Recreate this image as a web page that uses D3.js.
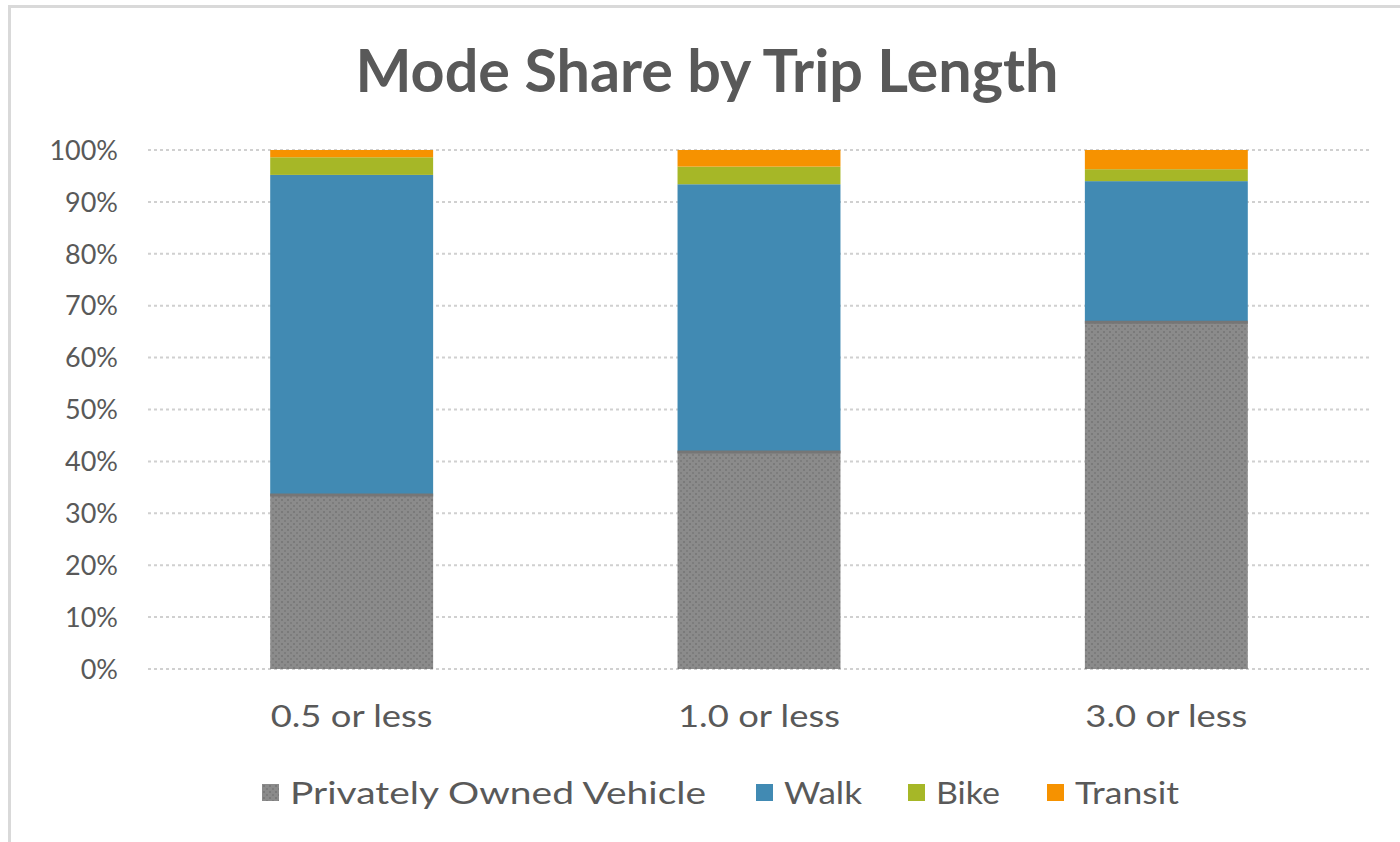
<!DOCTYPE html>
<html>
<head>
<meta charset="utf-8">
<script src="https://cdn.jsdelivr.net/npm/d3@7"></script>
<style>
  body { margin: 0; background: #fff; }
  text { font-family: Lato, "DejaVu Sans", sans-serif; fill: #595959; }
</style>
</head>
<body>
<svg class="chart" width="1400" height="842"></svg>
<script>
// data
var categories = ["0.5 or less", "1.0 or less", "3.0 or less"];
var modes = ["Privately Owned Vehicle", "Walk", "Bike", "Transit"];
var povValues = [33.7, 42.0, 67.0];
var walkValues = [61.5, 51.4, 27.0];
var bikeValues = [3.4, 3.4, 2.3];
var transitValues = [1.4, 3.2, 3.7];
var yTicks = [0, 10, 20, 30, 40, 50, 60, 70, 80, 90, 100];

var margin = {top: 150, right: 30, bottom: 173, left: 148};
var svg = d3.select(".chart");
var w = +svg.attr("width") - margin.left - margin.right;
var h = +svg.attr("height") - margin.top - margin.bottom;

var colors = d3.scaleOrdinal().domain(modes)
    .range(["url(#povFill)", "#418ab3", "#a6b727", "#f69200"]);

// dotted fill used by the vehicle series
var pat = svg.append("defs").append("pattern")
    .attr("id", "povFill")
    .attr("patternUnits", "userSpaceOnUse")
    .attr("width", 6).attr("height", 6);
pat.append("rect").attr("width", 6).attr("height", 6).attr("fill", "#8b8b8b");
pat.append("rect").attr("x", 1).attr("y", 1).attr("width", 2).attr("height", 2).attr("fill", "#7a7a7a");
pat.append("rect").attr("x", 4).attr("y", 4).attr("width", 2).attr("height", 2).attr("fill", "#7d7d7d");

// chart frame (only the left and top edges show)
svg.append("path")
    .attr("d", "M9.5,842V6.5H1400")
    .attr("fill", "none").attr("stroke", "#d9d9d9").attr("stroke-width", 3);

var dataset = categories.map(function (c, i) {
    return {
        "Privately Owned Vehicle": povValues[i],
        "Walk": walkValues[i],
        "Bike": bikeValues[i],
        "Transit": transitValues[i]
    };
});
var stackedData = d3.stack().keys(modes)(dataset);

var xScale = d3.scaleBand()
    .domain(categories)
    .range([0, w])
    .paddingInner(0.6)
    .paddingOuter(0.3);

var yScale = d3.scaleLinear()
    .domain([0, 100])
    .range([h, 0]);

var g = svg.append("g").attr("transform", "translate(" + margin.left + "," + margin.top + ")");

// gridlines
g.append("g").selectAll("line")
    .data(yTicks)
    .enter()
    .append("line")
    .attr("x1", 0).attr("x2", w)
    .attr("y1", function (d) { return yScale(d); })
    .attr("y2", function (d) { return yScale(d); })
    .attr("stroke", "#d0d0d0")
    .attr("stroke-width", 2)
    .attr("stroke-dasharray", "3,3");

// y tick labels
g.append("g").selectAll("text")
    .data(yTicks)
    .enter()
    .append("text")
    .attr("x", -30)
    .attr("y", function (d) { return yScale(d); })
    .attr("dy", "0.36em")
    .attr("text-anchor", "end")
    .style("font-size", "27px")
    .text(function (d) { return d + "%"; });

var groups = g.selectAll("g.series")
    .data(stackedData)
    .enter()
    .append("g")
    .attr("class", "series")
    .style("fill", function (d) { return colors(d.key); });

groups.selectAll("rect")
    .data(function (d) { return d; })
    .enter()
    .append("rect")
    .attr("x", function (d, i) { return xScale(categories[i]); })
    .attr("y", function (d) { return yScale(d[1]); })
    .attr("height", function (d) { return yScale(d[0]) - yScale(d[1]); })
    .attr("width", xScale.bandwidth());

// darker edge on top of the vehicle segment
g.append("g").selectAll("line")
    .data(stackedData[0])
    .enter()
    .append("line")
    .attr("x1", function (d, i) { return xScale(categories[i]); })
    .attr("x2", function (d, i) { return xScale(categories[i]) + xScale.bandwidth(); })
    .attr("y1", function (d) { return yScale(d[1]) + 1; })
    .attr("y2", function (d) { return yScale(d[1]) + 1; })
    .attr("stroke", "#767676")
    .attr("stroke-width", 3);

// x labels
g.append("g").selectAll("text")
    .data(categories)
    .enter()
    .append("text")
    .attr("x", function (d) { return xScale(d) + xScale.bandwidth() / 2; })
    .attr("y", h + 58)
    .attr("text-anchor", "middle")
    .attr("textLength", 162)
    .attr("lengthAdjust", "spacingAndGlyphs")
    .style("font-size", "30px")
    .text(function (d) { return d; });

// title
svg.append("text")
    .attr("x", 707)
    .attr("y", 92)
    .attr("text-anchor", "middle")
    .attr("textLength", 703)
    .attr("lengthAdjust", "spacingAndGlyphs")
    .style("font-size", "60px")
    .style("font-weight", "bold")
    .text("Mode Share by Trip Length");

// legend
var legendX = [262, 756, 908, 1047];
var legendW = [416, 78, 64, 104];
var legend = svg.append("g").selectAll("g")
    .data(modes)
    .enter()
    .append("g")
    .attr("transform", function (d, i) { return "translate(" + legendX[i] + ",784)"; });
legend.append("rect")
    .attr("width", 17).attr("height", 17)
    .style("fill", function (d) { return colors(d); });
legend.append("text")
    .attr("x", 28)
    .attr("y", 20)
    .attr("textLength", function (d, i) { return legendW[i]; })
    .attr("lengthAdjust", "spacingAndGlyphs")
    .style("font-size", "30px")
    .text(function (d) { return d; });
</script>
</body>
</html>
